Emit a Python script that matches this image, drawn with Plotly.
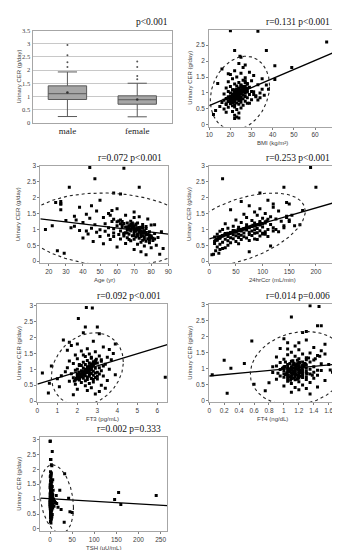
import numpy as np
import plotly.graph_objects as go

# ---------------- data ----------------
cer = [2.95, 2.93, 2.6, 2.33, 2.33, 2.15, 2.12, 1.85, 1.8, 1.8,
       1.92, 1.88, 1.75, 1.7, 1.65, 1.62, 1.58, 1.55, 1.5, 1.48,
       1.45, 1.42, 1.4, 1.38, 1.35, 1.33, 1.3, 1.28, 1.26, 1.25,
       1.22, 1.2, 1.2, 1.18, 1.16, 1.15, 1.14, 1.12, 1.1, 1.1,
       1.08, 1.07, 1.05, 1.05, 1.04, 1.03, 1.02, 1.0, 1.0, 0.99,
       0.98, 0.97, 0.96, 0.95, 0.95, 0.94, 0.93, 0.92, 0.91, 0.9,
       0.9, 0.89, 0.88, 0.87, 0.86, 0.85, 0.85, 0.84, 0.83, 0.82,
       0.81, 0.8, 0.8, 0.79, 0.78, 0.77, 0.76, 0.75, 0.74, 0.73,
       0.72, 0.71, 0.7, 0.69, 0.68, 0.66, 0.65, 0.64, 0.62, 0.6,
       0.58, 0.56, 0.55, 0.53, 0.5, 0.48, 0.45, 0.42, 0.4, 0.37,
       0.33, 0.3, 0.25, 0.22, 0.2, 1.12, 1.0, 0.93, 1.3, 1.6,
       0.88, 1.05, 0.78, 1.45, 0.68, 1.15, 0.95, 1.25, 0.85, 1.38,
       1.0, 0.95, 0.9, 1.05, 0.85, 1.1, 0.8, 1.15, 0.75, 1.2,
       0.98, 0.92, 1.02, 0.88, 1.08, 0.82, 1.12, 0.78, 1.18, 0.72,
       1.0, 0.96, 1.04, 0.86, 1.14, 0.9, 1.06, 0.84, 1.24, 0.7,
       0.94, 1.01, 0.87, 1.09, 0.79, 1.16, 0.93, 1.03, 0.66, 1.32,
       0.97, 0.89, 1.07, 0.83, 1.13, 0.76, 1.19, 0.91, 1.11, 0.63,
       1.01, 0.86, 1.06, 0.81, 1.27, 0.74, 0.99, 1.09, 0.69, 1.17]

bmi = [20, 33, 65.5, 22, 37, 24.5, 25, 41, 49, 26,
       24, 27, 16, 22, 29, 25, 20, 31, 23, 27,
       21, 41, 26, 30, 19, 24, 28, 22, 33, 25,
       23, 20, 27, 29, 18, 24, 26, 35, 22, 21,
       25, 28, 19, 23, 31, 22, 26, 24, 20, 27,
       23, 17, 25, 29, 21, 24, 26, 22, 32, 20,
       24, 27, 19, 23, 25, 21, 28, 22, 18, 26,
       23, 20, 25, 30, 22, 17, 24, 21, 27, 19,
       22, 25, 16, 23, 28, 20, 24, 18, 26, 21,
       15, 22, 19, 25, 17, 23, 13, 21, 18, 24,
       12, 22, 23, 24, 22, 38, 34, 36, 14, 19,
       32, 30, 33, 35, 29, 28, 31, 37, 34, 27,
       23, 22, 21, 24, 20, 25, 21, 24, 19, 26,
       22, 23, 24, 21, 25, 20, 23, 22, 26, 20,
       24, 21, 23, 22, 26, 24, 27, 19, 25, 21,
       22, 25, 20, 23, 21, 26, 24, 28, 18, 27,
       21, 23, 22, 24, 27, 19, 25, 23, 24, 22,
       25, 20, 26, 23, 28, 22, 24, 21, 20, 26]

age = [44, 64, 47, 32, 73, 58, 62, 24, 27, 27,
       50, 27, 45, 38, 60, 27, 48, 70, 55, 42,
       65, 35, 73, 52, 44, 78, 62, 30, 68, 57,
       40, 72, 66, 53, 75, 47, 80, 60, 70, 35,
       63, 74, 55, 69, 45, 77, 58, 72, 66, 50,
       71, 38, 76, 62, 68, 53, 79, 73, 48, 65,
       75, 58, 70, 82, 43, 67, 74, 61, 77, 55,
       72, 69, 80, 64, 50, 76, 71, 84, 66, 40,
       73, 78, 62, 70, 56, 75, 81, 68, 46, 74,
       79, 65, 52, 72, 83, 76, 60, 80, 87, 70,
       25, 74, 29, 85, 77, 22, 18, 86, 36, 57,
       64, 33, 58, 56, 67, 82, 42, 63, 78, 70,
       70, 74, 66, 72, 78, 68, 75, 63, 80, 69,
       73, 76, 71, 77, 65, 79, 67, 74, 62, 81,
       72, 70, 75, 64, 69, 76, 73, 78, 60, 82,
       71, 67, 74, 77, 72, 68, 75, 70, 79, 58,
       73, 76, 66, 78, 71, 80, 64, 74, 69, 77,
       68, 72, 75, 70, 61, 79, 73, 67, 76, 71]

ccr = [190, 235, 25, 140, 200, 95, 237, 145, 150, 120,
       110, 60, 75, 120, 95, 40, 130, 85, 105, 65,
       90, 145, 115, 70, 100, 125, 50, 80, 135, 95,
       60, 105, 85, 30, 115, 70, 95, 160, 45, 80,
       100, 55, 75, 120, 35, 90, 65, 110, 25, 85,
       70, 45, 95, 60, 80, 20, 105, 50, 75, 90,
       40, 65, 85, 30, 100, 55, 15, 75, 45, 60,
       80, 25, 50, 95, 35, 65, 10, 55, 40, 70,
       20, 45, 85, 30, 60, 15, 75, 35, 50, 25,
       40, 10, 55, 20, 35, 115, 15, 30, 25, 20,
       12, 75, 18, 8, 5, 140, 125, 130, 150, 175,
       100, 140, 110, 155, 90, 170, 120, 150, 105, 145,
       55, 45, 40, 70, 30, 80, 25, 90, 20, 95,
       60, 50, 65, 35, 75, 28, 85, 22, 100, 18,
       58, 48, 68, 32, 88, 42, 72, 30, 105, 15,
       52, 62, 38, 78, 24, 92, 47, 66, 12, 110,
       56, 40, 74, 30, 82, 20, 98, 44, 86, 10,
       64, 36, 70, 26, 108, 18, 54, 80, 14, 96]

ft3 = [2.45, 2.75, 2.05, 2.4, 3.0, 2.3, 3.1, 1.6, 3.9, 2.0,
       1.3, 2.8, 1.7, 3.3, 2.5, 3.6, 2.2, 2.9, 3.8, 2.6,
       1.9, 3.1, 2.4, 3.5, 2.7, 2.0, 3.2, 2.5, 1.6, 2.9,
       2.3, 3.0, 2.6, 1.8, 3.4, 2.4, 2.8, 2.1, 3.3, 0.7,
       2.5, 2.7, 1.5, 3.1, 2.3, 2.9, 2.6, 2.0, 3.6, 2.4,
       2.7, 1.9, 2.5, 3.2, 2.2, 2.8, 2.6, 1.4, 3.0, 2.4,
       2.5, 2.1, 2.9, 2.7, 1.7, 3.1, 2.3, 2.6, 3.9, 2.0,
       2.8, 2.4, 1.2, 3.3, 2.6, 2.2, 2.5, 6.4, 2.9, 1.8,
       2.3, 2.7, 1.0, 3.0, 2.5, 2.1, 3.5, 2.4, 1.6, 2.8,
       2.2, 0.6, 2.6, 1.9, 3.2, 2.4, 1.1, 2.7, 3.4, 2.0,
       2.5, 3.1, 0.55, 2.9, 1.8, 2.2, 2.7, 2.4, 3.7, 1.5,
       0.25, 2.6, 3.0, 2.3, 2.8, 2.1, 2.5, 3.2, 2.0, 2.7,
       2.5, 2.4, 2.3, 2.6, 2.2, 2.7, 2.1, 2.8, 2.0, 2.9,
       2.45, 2.35, 2.55, 2.25, 2.65, 2.15, 2.75, 2.05, 2.85, 1.95,
       2.5, 2.4, 2.6, 2.3, 2.7, 2.45, 2.55, 2.2, 2.8, 2.1,
       2.4, 2.5, 2.35, 2.6, 2.25, 2.7, 2.45, 2.55, 1.9, 2.95,
       2.5, 2.3, 2.65, 2.2, 2.75, 2.15, 2.8, 2.4, 2.6, 1.85,
       2.55, 2.35, 2.6, 2.25, 2.9, 2.1, 2.5, 2.7, 2.0, 2.75]

ft4 = [1.35, 1.47, 1.1, 1.45, 1.5, 1.3, 1.25, 0.57, 1.2, 1.05,
       1.0, 1.3, 1.55, 1.15, 1.4, 0.95, 1.2, 1.5, 1.1, 1.35,
       1.25, 1.05, 1.45, 1.15, 0.9, 1.3, 1.2, 1.0, 1.4, 0.2,
       1.1, 1.25, 1.35, 0.95, 1.2, 0.47, 1.5, 1.05, 1.3, 1.15,
       1.2, 0.9, 1.1, 1.4, 1.25, 1.0, 1.15, 0.29, 1.3, 1.05,
       1.2, 1.35, 0.95, 1.1, 1.25, 1.45, 1.0, 1.15, 1.3, 1.2,
       1.05, 1.25, 1.4, 0.85, 1.15, 1.1, 1.3, 1.2, 1.0, 1.35,
       1.15, 0.04, 1.25, 1.05, 1.45, 1.2, 0.95, 1.1, 1.3, 1.15,
       1.0, 1.25, 1.2, 1.4, 1.1, 0.9, 1.3, 1.15, 1.55, 1.05,
       1.2, 1.35, 0.8, 1.1, 0.6, 1.25, 1.0, 1.45, 1.15, 1.3,
       1.2, 0.75, 1.1, 0.24, 1.35, 1.6, 0.98, 1.5, 1.42, 1.05,
       1.65, 0.85, 1.38, 1.55, 1.05, 1.28, 1.62, 1.18, 0.92, 1.48,
       1.15, 1.1, 1.2, 1.05, 1.25, 1.12, 1.18, 1.08, 1.22, 1.02,
       1.16, 1.06, 1.24, 1.13, 1.19, 1.03, 1.28, 1.11, 1.21, 1.07,
       1.14, 1.09, 1.26, 1.04, 1.17, 1.23, 1.01, 1.31, 1.12, 1.19,
       1.1, 1.2, 1.15, 1.27, 1.06, 1.13, 1.22, 1.0, 1.18, 1.33,
       1.17, 1.08, 1.24, 1.12, 1.29, 1.05, 1.21, 1.14, 1.26, 1.09,
       1.11, 1.23, 1.16, 1.02, 1.3, 1.19, 1.07, 1.25, 1.13, 1.2]

tsh = [0.5, 0.2, 5, 1, 2, 3, 4, 33, 1.5, 2.5,
       1, 3, 0.5, 2, 6, 1, 4, 2, 0.5, 3,
       1, 5, 2, 0, 3, 1, 7, 2, 4, 1,
       155, 2, 0.5, 3, 1, 6, 2, 240, 1, 4,
       2, 0, 3, 1, 5, 42, 2, 8, 1, 146,
       3, 1, 2, 0.5, 4, 2, 10, 1, 3, 2,
       0, 12, 2, 1, 5, 3, 1, 2, 7, 160,
       1, 3, 2, 0.5, 4, 2, 9, 1, 3, 18,
       2, 1, 6, 3, 0.5, 2, 25, 4, 1, 3,
       45, 2, 50, 1, 3, 5, 1, 2, 4, 1,
       3, 2, 1, 32, 2, 14, 3, 1, 22, 2,
       1, 4, 2, 0.5, 3, 1, 6, 2, 15, 1,
       1, 2, 0.5, 3, 1.5, 2.5, 0.8, 4, 1.2, 2,
       0.6, 1.8, 3.5, 1, 2.2, 0.4, 5, 1.4, 2.8, 1,
       2, 0.7, 3, 1.6, 4.5, 1, 2.4, 0.3, 3.2, 1.1,
       1.3, 2.6, 0.9, 3.8, 1.7, 0.5, 2.1, 4.2, 1, 2.9,
       0.8, 1.9, 3.3, 1.2, 2.3, 0.6, 4.8, 1.5, 2.7, 1,
       2.2, 0.9, 3.6, 1.4, 2, 0.4, 5.5, 1.1, 3, 1.8]

# box plot (sex)
box_groups = ["male", "female"]
box_q1 = [0.88, 0.70]
box_median = [1.10, 0.87]
box_q3 = [1.40, 1.02]
box_lower = [0.23, 0.22]
box_upper = [1.93, 1.50]
box_mean = [1.15, 0.88]
male_outliers = [2.12, 2.3, 2.57, 2.96]
female_outliers = [1.65, 1.78, 2.12, 2.33]

panel_titles = ["p<0.001", "r=0.131 p<0.001", "r=0.072 p<0.001", "r=0.253 p<0.001",
                "r=0.092 p<0.001", "r=0.014 p=0.006", "r=0.002 p=0.333"]
x_titles = ["BMI (kg/m\u00b2)", "Age (yr)", "24hrCcr (mL/min)", "FT3 (pg/mL)",
            "FT4 (ng/dL)", "TSH (\u03bcU/mL)"]
# regression lines: intercept, slope
reg_intercept = [0.32, 1.43, 0.70, 0.53, 0.76, 1.015]
reg_slope = [0.0283, -0.0064, 0.0049, 0.192, 0.215, -0.00088]
# ellipses: centre x, centre y, half width, half height, tilt correlation
ell_mx = [24.5, 56, 60, 2.5, 1.2, 15]
ell_my = [1.0, 1.0, 1.0, 1.0, 1.0, 1.0]
ell_a = [14, 50, 120, 1.8, 0.65, 38]
ell_b = [1.15, 1.15, 1.15, 1.15, 1.15, 1.15]
ell_r = [0.2, -0.1, 0.5, 0.2, 0.15, -0.25]

# ---------------- layout geometry (pixels) ----------------
W, H = 340, 550
# plot areas: x0, x1, ytop, ybottom
areas = [
    (21, 164, 19, 112),
    (202, 332, 18, 116),
    (29, 160, 156, 254),
    (202, 332, 156, 254),
    (26, 159, 296, 395),
    (202, 332, 296, 395),
    (29, 159, 430, 526),
]
x_ranges = [None, [10, 70], [15, 90], [0, 238], [0, 6.5], [0, 1.7], [-22, 265]]
x_dticks = [None, 10, 10, 50, 1, 0.2, 50]
y_ranges = [[0, 3.5], [-0.05, 2.98], [-0.05, 3.0], [-0.05, 3.0], [-0.03, 3.05], [-0.05, 3.0], [-0.08, 3.1]]

xs = [None, bmi, age, ccr, ft3, ft4, tsh]

SANS = "Liberation Sans, Arial, sans-serif"
SERIF = "Liberation Serif, Times New Roman, serif"

fig = go.Figure()

def fx(p):
    return p / W

def fy(p):
    return 1 - p / H

layout = dict(
    width=W, height=H, margin=dict(l=0, r=0, t=0, b=0),
    paper_bgcolor="white", plot_bgcolor="white", showlegend=False,
)

annotations = []
for i, (x0, x1, yt, yb) in enumerate(areas):
    n = "" if i == 0 else str(i + 1)
    xa = dict(domain=[fx(x0), fx(x1)], anchor="y" + n, showgrid=False, zeroline=False,
              linecolor="#a6a6a6", linewidth=1, mirror=True,
              ticks="outside", ticklen=2, tickcolor="#808080",
              tickfont=dict(family=SANS, size=6.5, color="#404040"))
    ya = dict(domain=[fy(yb), fy(yt)], anchor="x" + n, range=y_ranges[i], dtick=0.5, tick0=0,
              zeroline=False, linecolor="#a6a6a6", linewidth=1, mirror=True,
              ticks="outside", ticklen=2, tickcolor="#808080",
              tickfont=dict(family=SANS, size=6.5, color="#404040"), showgrid=False)
    if i == 0:
        xa.update(type="category", ticks="", tickfont=dict(family=SERIF, size=9, color="#222"),
                  range=[-0.5, 1.5], linecolor="#a6a6a6")
        ya.update(showgrid=True, gridcolor="#c8c8c8", gridwidth=1, ticks="",
                  tickfont=dict(family=SERIF, size=6.5, color="#404040"))
    else:
        xa.update(range=x_ranges[i], dtick=x_dticks[i], tick0=0)
    layout["xaxis" + n] = xa
    layout["yaxis" + n] = ya

    # panel title
    annotations.append(dict(text=panel_titles[i], xref="paper", yref="paper",
                            x=fx(x1 - 4 if i != 0 else x1 - 2), y=fy(yt - 8 if i != 0 else yt - 9),
                            xanchor="right", yanchor="middle", showarrow=False,
                            font=dict(family=SERIF, size=9.5, color="#111")))
    # y title
    ytx = 7 if x0 < 100 else 182
    annotations.append(dict(text="Urinary CER (g/day)", xref="paper", yref="paper",
                            x=fx(ytx), y=fy((yt + yb) / 2), textangle=-90,
                            xanchor="center", yanchor="middle", showarrow=False,
                            font=dict(family=SANS, size=6, color="#404040")))
    if i > 0:
        annotations.append(dict(text=x_titles[i - 1], xref="paper", yref="paper",
                                x=fx((x0 + x1) / 2), y=fy(yb + 17),
                                xanchor="center", yanchor="middle", showarrow=False,
                                font=dict(family=SANS, size=6, color="#404040")))

layout["annotations"] = annotations
fig.update_layout(**layout)

# box plot panel
fig.add_trace(go.Box(x=box_groups, q1=box_q1, median=box_median, q3=box_q3,
                     lowerfence=box_lower, upperfence=box_upper,
                     fillcolor="#a6a6a6", line=dict(color="#595959", width=1),
                     width=0.55, whiskerwidth=0.5, boxpoints=False,
                     xaxis="x", yaxis="y"))
fig.add_trace(go.Scatter(x=box_groups, y=box_mean, mode="markers",
                         marker=dict(size=2.5, color="#333"), xaxis="x", yaxis="y"))
fig.add_trace(go.Scatter(x=["male"] * len(male_outliers) + ["female"] * len(female_outliers),
                         y=male_outliers + female_outliers, mode="markers",
                         marker=dict(size=2, color="#555"), xaxis="x", yaxis="y"))

t = np.linspace(0, 2 * np.pi, 240)
for i in range(1, 7):
    n = str(i + 1)
    k = i - 1
    # points
    fig.add_trace(go.Scatter(x=xs[i], y=cer, mode="markers",
                             marker=dict(symbol="square", size=3, color="#000"),
                             xaxis="x" + n, yaxis="y" + n, cliponaxis=True))
    # regression line
    lx = np.array(x_ranges[i], dtype=float)
    fig.add_trace(go.Scatter(x=lx, y=reg_intercept[k] + reg_slope[k] * lx, mode="lines",
                             line=dict(color="#000", width=1.3),
                             xaxis="x" + n, yaxis="y" + n))
    # confidence ellipse
    r = ell_r[k]
    ex = ell_mx[k] + ell_a[k] * np.cos(t)
    ey = ell_my[k] + ell_b[k] * (r * np.cos(t) + np.sqrt(1 - r * r) * np.sin(t))
    fig.add_trace(go.Scatter(x=ex, y=ey, mode="lines",
                             line=dict(color="#222", width=1.1, dash="dot"),
                             xaxis="x" + n, yaxis="y" + n))

fig.write_html("out.html")
